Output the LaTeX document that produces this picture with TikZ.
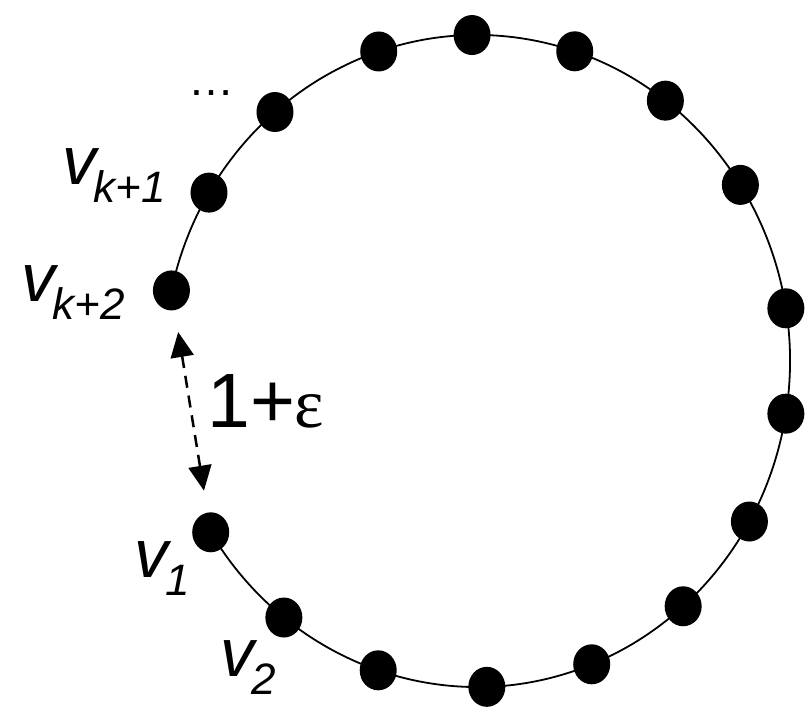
\documentclass[tikz,border=0pt]{standalone}
\usepackage{fontspec}
\setmainfont{Liberation Sans}
\newfontfamily\epsfont{Liberation Serif}
\usetikzlibrary{shapes.geometric,arrows.meta}

\newcommand{\vname}[1]{\textit{v}\kern-6pt\raisebox{-18pt}{\fontsize{44}{50}\selectfont\textit{#1}}}

\tikzset{
  dot/.style={ellipse,fill=black,inner sep=0,minimum width=37,minimum height=40},
  rim/.style={line width=1.8},
  lab/.style={anchor=base west,inner sep=0,font=\fontsize{68}{80}\selectfont},
  gap/.style={{Triangle[length=25,width=23]}-{Triangle[length=25,width=23]},dash pattern=on 12 off 8,line width=2.5}
}

\begin{document}
\begin{tikzpicture}[x=1pt,y=1pt]
    \useasboundingbox (0,0) rectangle (809,715);
    \coordinate (ctr) at (477,354);

    % the cycle, open between v_{k+2} and v_1
    \draw[rim] ([shift={(167.5:313 and 326)}]ctr) arc[start angle=167.5,end angle=-148.3,x radius=313,y radius=326];

    \foreach \a [count=\i] in {167.5,148.9,130.2,108.3,90.9,71.8,53.0,32.7,9.3,-9.3,-29.5,-48.8,-68.5,-88.2,-108.4,-128.1,-148.3}
        \node[dot] (p\i) at ([shift={(\a:313 and 326)}]ctr) {};

    \draw[gap,shorten <=22,shorten >=22] (p1) -- (p17);

    \node[lab] (lk1) at (62,530) {\vname{k+1}};
    \node[lab] (lk2) at (21,413) {\vname{k+2}};
    \node[lab] (l1) at (134,137) {\vname{1}};
    \node[lab] (l2) at (220,38) {\vname{2}};
    \node[lab,font=\fontsize{77}{90}\selectfont] (eps) at (207,287) {1+{\epsfont\fontsize{70}{80}\selectfont ε}};
    \node[lab,font=\fontsize{46}{50}\selectfont] (more) at (188,619) {…};
\end{tikzpicture}
\end{document}
